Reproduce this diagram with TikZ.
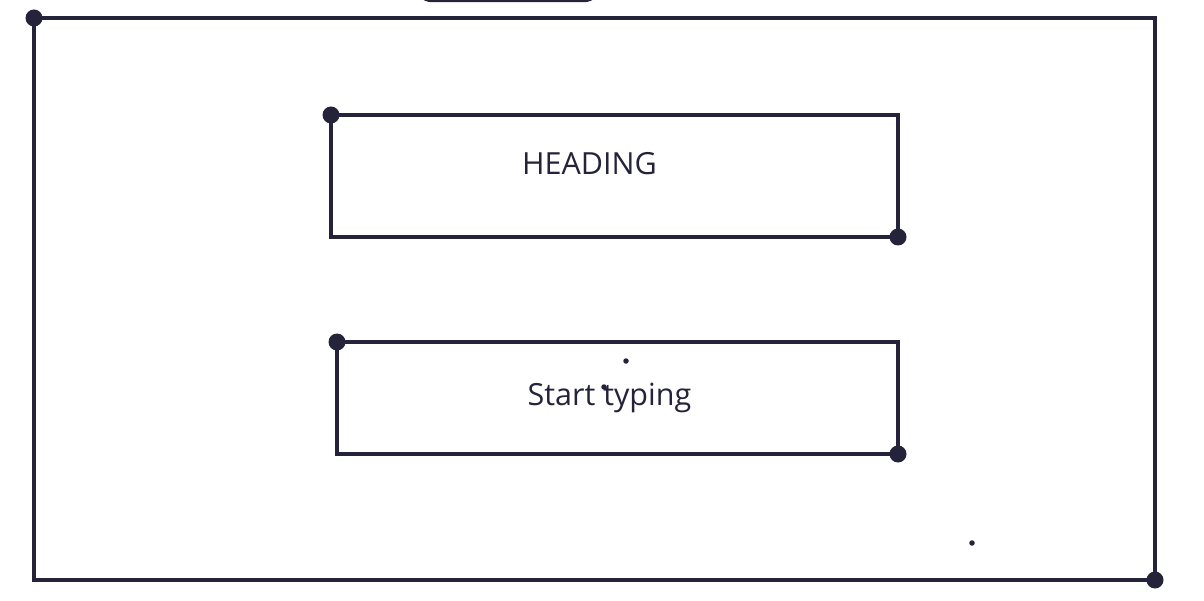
\documentclass[tikz,border=0pt]{standalone}
\usepackage{fontspec}
\setmainfont{Open Sans}
\definecolor{ink}{HTML}{24233A}
\begin{document}
\begin{tikzpicture}[x=1pt,y=-1pt,
  frame/.style={draw=ink,line width=3.2pt,line join=miter},
  bigdot/.style={circle,fill=ink,inner sep=0pt,minimum size=17pt},
  tinydot/.style={circle,fill=ink,inner sep=0pt,minimum size=5.5pt},
  label/.style={text=ink,font=\fontsize{30.5}{36}\selectfont,inner sep=0pt}]
\useasboundingbox (0,0) rectangle (1204,601);
\begin{scope}
\clip (0,0) rectangle (1204,601);
\draw[ink,line width=2.4pt,rounded corners=16pt] (416,-40) rectangle (600,1);
\end{scope}
% outer frame
\draw[frame] (34,18) rectangle (1155,580);
\node[bigdot] (otl) at (34,18) {};
\node[bigdot] (obr) at (1155,580) {};
% heading box
\draw[frame] (331,115) rectangle (898,237);
\node[bigdot] (htl) at (331,115) {};
\node[bigdot] (hbr) at (898,237) {};
\node[label] (heading) at (589.5,164) {HEADING};
% start box
\draw[frame] (337,342) rectangle (898,454);
\node[bigdot] (stl) at (337,342) {};
\node[bigdot] (sbr) at (898,454) {};
\node[label] (start) at (609.5,398) {Start typing};
% small dots
\node[tinydot] (d1) at (626,361) {};
\node[tinydot] (d2) at (604,387) {};
\node[tinydot] (d3) at (972,543) {};
\end{tikzpicture}
\end{document}
